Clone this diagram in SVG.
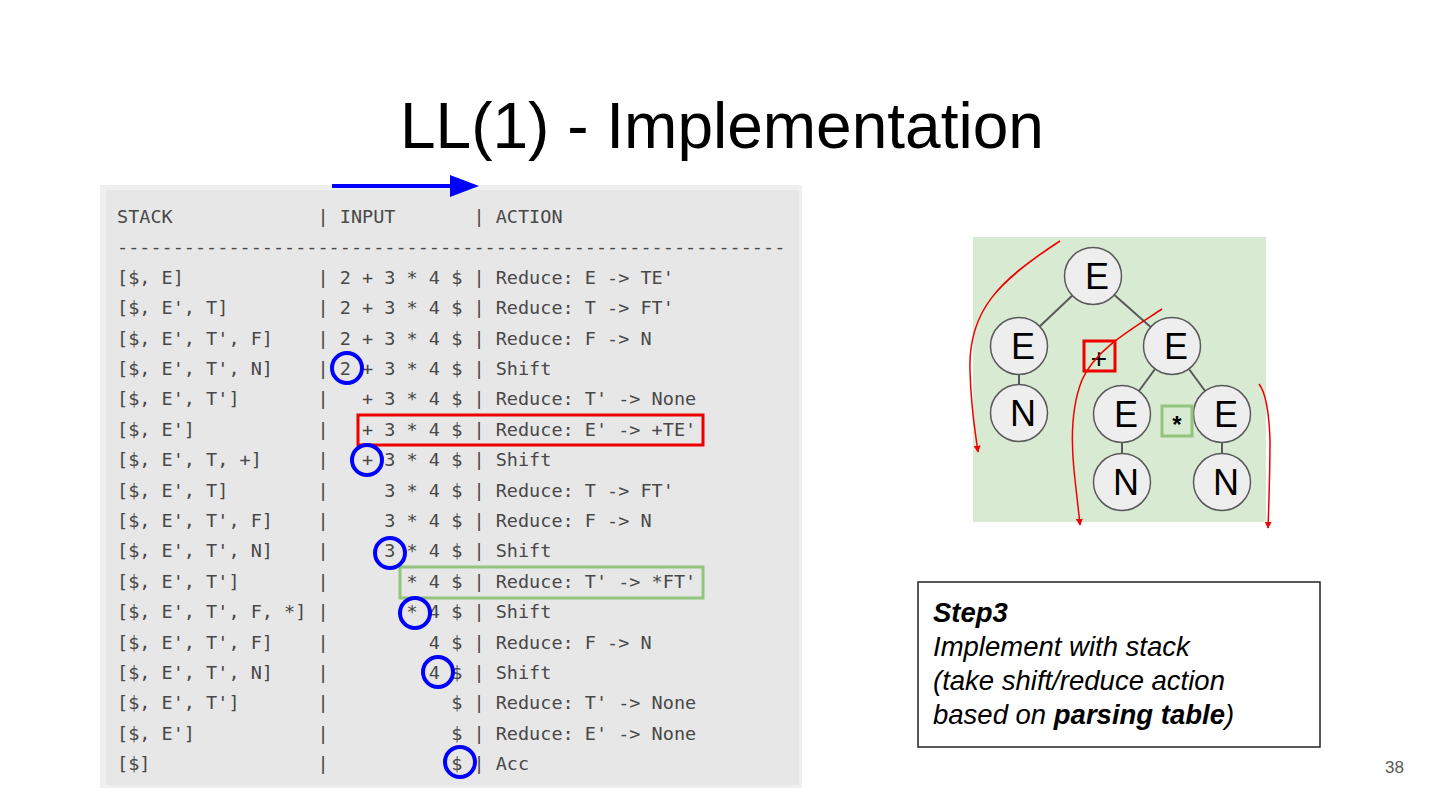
<svg xmlns="http://www.w3.org/2000/svg" width="1440" height="810" viewBox="0 0 1440 810">
<defs>
<style>
.title{font-family:"Liberation Sans",Arial,sans-serif;font-size:64px;fill:#000}
.mono{font-family:"DejaVu Sans Mono","Liberation Mono",monospace;font-size:18.5px;fill:#484848;white-space:pre}
.hl{fill:none;stroke-width:3}
.blue{fill:none;stroke:#0000ff;stroke-width:4}
.node circle{fill:#eeeeee;stroke:#595959;stroke-width:1.5}
.node text{font-family:"Liberation Sans",Arial,sans-serif;font-size:36px;fill:#000;text-anchor:middle}
.edge{stroke:#595959;stroke-width:2}
.trav{fill:none;stroke:#ee0000;stroke-width:1.5}
.note{font-family:"Liberation Sans",Arial,sans-serif;font-size:27.5px;font-style:italic;fill:#000}
</style>
<marker id="redhead" viewBox="0 0 10 10" refX="9" refY="5" markerWidth="7" markerHeight="7" markerUnits="userSpaceOnUse" orient="auto">
<path d="M0,0 L10,5 L0,10 z" fill="#ee0000"/>
</marker>
</defs>
<rect width="1440" height="810" fill="#ffffff"/>
<text class="title" x="400" y="148">LL(1) - Implementation</text>

<g id="table">
<rect x="100" y="185" width="702" height="603" fill="#efefef"/>
<rect x="106" y="190" width="693" height="595" fill="#e7e7e7"/>
<text class="mono" xml:space="preserve" x="117" y="223">STACK             | INPUT       | ACTION</text>
<text class="mono" xml:space="preserve" x="117" y="253.4">------------------------------------------------------------</text>
<text class="mono" xml:space="preserve" x="117" y="283.8">[$, E]            | 2 + 3 * 4 $ | Reduce: E -> TE'</text>
<text class="mono" xml:space="preserve" x="117" y="314.2">[$, E', T]        | 2 + 3 * 4 $ | Reduce: T -> FT'</text>
<text class="mono" xml:space="preserve" x="117" y="344.6">[$, E', T', F]    | 2 + 3 * 4 $ | Reduce: F -> N</text>
<text class="mono" xml:space="preserve" x="117" y="375.0">[$, E', T', N]    | 2 + 3 * 4 $ | Shift</text>
<text class="mono" xml:space="preserve" x="117" y="405.4">[$, E', T']       |   + 3 * 4 $ | Reduce: T' -> None</text>
<text class="mono" xml:space="preserve" x="117" y="435.8">[$, E']           |   + 3 * 4 $ | Reduce: E' -> +TE'</text>
<text class="mono" xml:space="preserve" x="117" y="466.2">[$, E', T, +]     |   + 3 * 4 $ | Shift</text>
<text class="mono" xml:space="preserve" x="117" y="496.6">[$, E', T]        |     3 * 4 $ | Reduce: T -> FT'</text>
<text class="mono" xml:space="preserve" x="117" y="527.0">[$, E', T', F]    |     3 * 4 $ | Reduce: F -> N</text>
<text class="mono" xml:space="preserve" x="117" y="557.4">[$, E', T', N]    |     3 * 4 $ | Shift</text>
<text class="mono" xml:space="preserve" x="117" y="587.8">[$, E', T']       |       * 4 $ | Reduce: T' -> *FT'</text>
<text class="mono" xml:space="preserve" x="117" y="618.2">[$, E', T', F, *] |       * 4 $ | Shift</text>
<text class="mono" xml:space="preserve" x="117" y="648.6">[$, E', T', F]    |         4 $ | Reduce: F -> N</text>
<text class="mono" xml:space="preserve" x="117" y="679.0">[$, E', T', N]    |         4 $ | Shift</text>
<text class="mono" xml:space="preserve" x="117" y="709.4">[$, E', T']       |           $ | Reduce: T' -> None</text>
<text class="mono" xml:space="preserve" x="117" y="739.8">[$, E']           |           $ | Reduce: E' -> None</text>
<text class="mono" xml:space="preserve" x="117" y="770.2">[$]               |           $ | Acc</text>
</g>

<g id="highlights">
<rect class="hl" x="358" y="415" width="345" height="30" stroke="#ee0000"/>
<rect class="hl" x="400" y="567" width="303" height="31" stroke="#93c47d"/>
<circle class="blue" cx="347" cy="368" r="15"/>
<circle class="blue" cx="367" cy="460" r="15"/>
<circle class="blue" cx="390" cy="553" r="15"/>
<circle class="blue" cx="415" cy="613" r="15"/>
<circle class="blue" cx="438" cy="672" r="15"/>
<circle class="blue" cx="460" cy="762" r="15"/>
</g>

<g id="scan-arrow">
<line x1="332" y1="186" x2="452" y2="186" stroke="#0000ff" stroke-width="4"/>
<path d="M450,175 L479,186 L450,197 z" fill="#0000ff"/>
</g>

<g id="tree-bg">
<rect x="973" y="237" width="293" height="285" fill="#d9ead3"/>
</g>

<g id="connectors">
<line class="edge" x1="1093" y1="276" x2="1019" y2="346"/>
<line class="edge" x1="1093" y1="276" x2="1172" y2="346"/>
<line class="edge" x1="1019" y1="346" x2="1019" y2="413"/>
<line class="edge" x1="1172" y1="346" x2="1122" y2="414"/>
<line class="edge" x1="1172" y1="346" x2="1222" y2="414"/>
<line class="edge" x1="1122" y1="414" x2="1122" y2="482"/>
<line class="edge" x1="1222" y1="414" x2="1222" y2="482"/>
</g>

<g id="node-root" class="node"><circle cx="1093" cy="276" r="28.5"/><text x="1097" y="289">E</text></g>
<g id="node-e-left" class="node"><circle cx="1019" cy="346" r="28.5"/><text x="1023" y="359">E</text></g>
<g id="node-n-left" class="node"><circle cx="1019" cy="413" r="28.5"/><text x="1023" y="426">N</text></g>
<g id="node-e-right" class="node"><circle cx="1172" cy="346" r="28.5"/><text x="1176" y="359">E</text></g>
<g id="node-e-mid" class="node"><circle cx="1122" cy="414" r="28.5"/><text x="1126" y="427">E</text></g>
<g id="node-e-far" class="node"><circle cx="1222" cy="414" r="28.5"/><text x="1226" y="427">E</text></g>
<g id="node-n-mid" class="node"><circle cx="1122" cy="482" r="28.5"/><text x="1126" y="495">N</text></g>
<g id="node-n-far" class="node"><circle cx="1222" cy="482" r="28.5"/><text x="1226" y="495">N</text></g>

<g id="op-plus">
<rect x="1084" y="341" width="31" height="30" fill="none" stroke="#ee0000" stroke-width="3"/>
<text x="1099" y="368" font-family="Liberation Sans, Arial, sans-serif" font-size="28" text-anchor="middle" fill="#000">+</text>
</g>
<g id="op-star">
<rect x="1162" y="406" width="30" height="30" fill="none" stroke="#93c47d" stroke-width="3"/>
<text x="1177" y="433" font-family="Liberation Sans, Arial, sans-serif" font-size="24" font-weight="bold" text-anchor="middle" fill="#000">*</text>
</g>

<g id="traversal">
<path class="trav" marker-end="url(#redhead)" d="M1060,241 C1000,280 968,310 970,370 C971,410 975,430 978,452"/>
<path class="trav" marker-end="url(#redhead)" d="M1162,309 C1130,330 1095,350 1082,380 C1072,405 1071,440 1074,470 C1076,490 1078,505 1080,525"/>
<path class="trav" marker-end="url(#redhead)" d="M1259,384 C1266,393 1269,410 1270,440 C1270,470 1269,500 1268,528"/>
</g>

<g id="note">
<rect x="918" y="582" width="402" height="165" fill="#fff" stroke="#222" stroke-width="1.5"/>
<text class="note" x="933" y="622" font-weight="bold">Step3</text>
<text class="note" x="933" y="656">Implement with stack</text>
<text class="note" x="933" y="690">(take shift/reduce action</text>
<text class="note" x="933" y="724">based on <tspan font-weight="bold">parsing table</tspan>)</text>
</g>

<text x="1385" y="773" font-family="Liberation Sans, Arial, sans-serif" font-size="17" fill="#595959">38</text>
</svg>
